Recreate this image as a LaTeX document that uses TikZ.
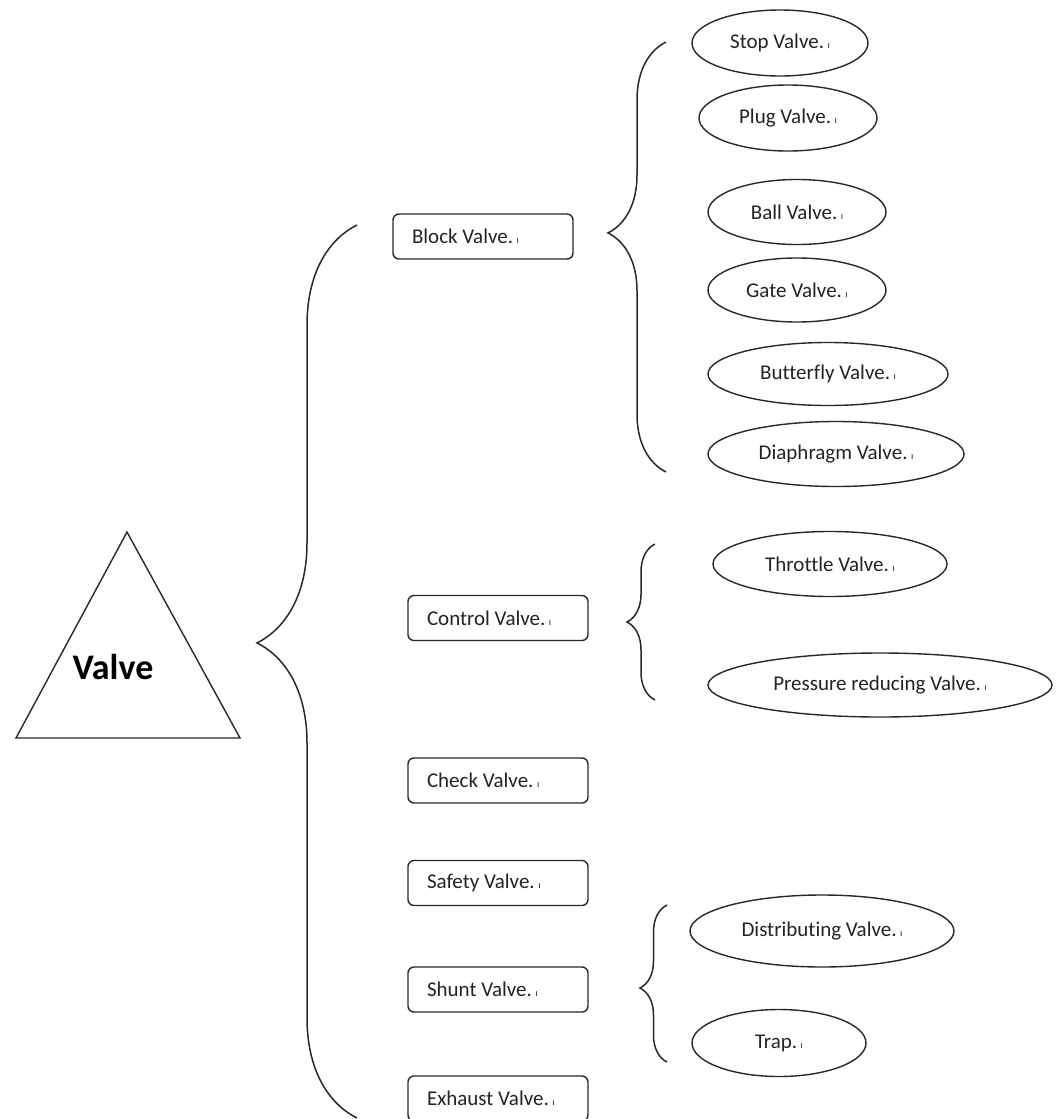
\documentclass[tikz,border=0pt]{standalone}
\usepackage{fontspec}
\setmainfont[Ligatures=NoCommon]{Carlito}
\usetikzlibrary{shapes.geometric, decorations.pathreplacing}
\definecolor{cLine}{RGB}{40,40,40}
\definecolor{cText}{RGB}{35,35,35}
\newcommand{\retmark}{.\,{\fontsize{10}{10}\selectfont ı}}

\begin{document}
\begin{tikzpicture}[x=1pt, y=-1pt,
        box/.style={rectangle, draw=cLine, line width=1.4pt, rounded corners=6pt,
        minimum width=180pt, minimum height=45pt, text width=142pt, inner xsep=19pt,
        align=flush left, font=\fontsize{21}{24}\selectfont, text=cText},
        oval/.style={ellipse, draw=cLine, line width=1.4pt, inner sep=0pt,
        font=\fontsize{21}{24}\selectfont, text=cText},
        curly/.style={decorate, draw=cLine, line width=1.5pt},
        root/.style={font=\fontsize{36}{40}\selectfont\bfseries, text=black}
    ]
        \useasboundingbox (0,0) rectangle (1055,1119);

        % --- root ---
        \coordinate (triL) at (16,738);
        \coordinate (triT) at (127,532);
        \coordinate (triR) at (240,738);
        \draw[draw=cLine, line width=1.4pt] (triL) -- (triT) -- (triR) -- cycle;
        \node[root] (valve) at (113,667) {Valve};

        % --- first level ---
        \node[box] (block)   at (483,236.5) {Block Valve\retmark};
        \node[box] (control) at (498,618)   {Control Valve\retmark};
        \node[box] (check)   at (498,780.5) {Check Valve\retmark};
        \node[box] (safety)  at (498,883)   {Safety Valve\retmark};
        \node[box] (shunt)   at (498,989.5) {Shunt Valve\retmark};
        \node[box] (exhaust) at (498,1098.5) {Exhaust Valve\retmark};

        \coordinate (mainBot) at (357,1118);
        \coordinate (mainTop) at (357,225);
        \draw[curly, decoration={brace, amplitude=100pt, aspect=0.532}] (mainBot) -- (mainTop);

        % --- Block Valve ---
        \node[oval, minimum width=176pt, minimum height=66pt] (stop)      at (780,43)  {Stop Valve\retmark};
        \node[oval, minimum width=178pt, minimum height=66pt] (plug)      at (788,118) {Plug Valve\retmark};
        \node[oval, minimum width=178pt, minimum height=65pt] (ball)      at (797,212) {Ball Valve\retmark};
        \node[oval, minimum width=178pt, minimum height=64pt] (gate)      at (797,290) {Gate Valve\retmark};
        \node[oval, minimum width=240pt, minimum height=63pt] (butterfly) at (828,374) {Butterfly Valve\retmark};
        \node[oval, minimum width=256pt, minimum height=65pt] (diaphragm) at (836,454) {Diaphragm Valve\retmark};

        \coordinate (blockBot) at (666,472);
        \coordinate (blockTop) at (666,42);
        \draw[curly, decoration={brace, amplitude=58pt, aspect=0.556}] (blockBot) -- (blockTop);

        % --- Control Valve ---
        \node[oval, minimum width=234pt, minimum height=65pt] (throttle) at (830,564) {Throttle Valve\retmark};
        \node[oval, minimum width=344pt, minimum height=64pt] (pressure) at (880,685) {Pressure reducing Valve\retmark};

        \coordinate (controlBot) at (655,700);
        \coordinate (controlTop) at (655,544);
        \draw[curly, decoration={brace, amplitude=28pt, aspect=0.5}] (controlBot) -- (controlTop);

        % --- Shunt Valve ---
        \node[oval, minimum width=264pt, minimum height=72pt] (distributing) at (822,931)  {Distributing Valve\retmark};
        \node[oval, minimum width=174pt, minimum height=67pt] (trap)         at (779,1043) {Trap\retmark\hspace{38pt}};

        \coordinate (shuntBot) at (667,1062);
        \coordinate (shuntTop) at (667,905);
        \draw[curly, decoration={brace, amplitude=27pt, aspect=0.471}] (shuntBot) -- (shuntTop);

    \end{tikzpicture}
\end{document}
